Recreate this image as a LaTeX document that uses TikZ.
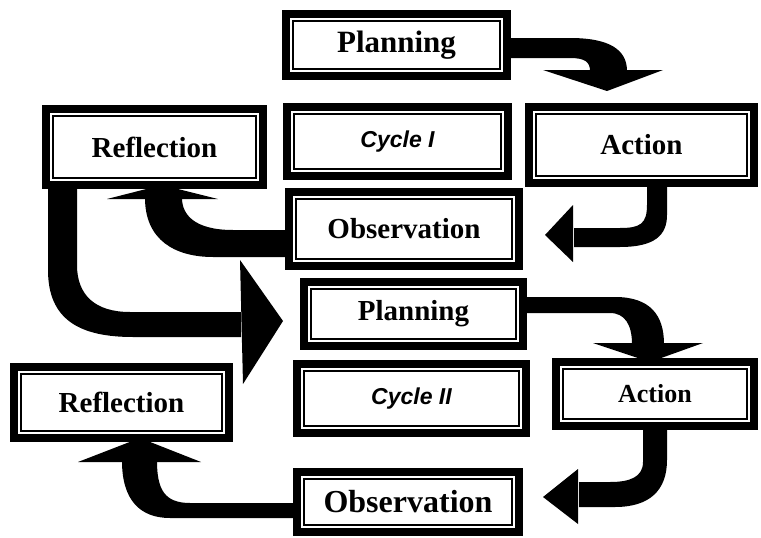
\documentclass[tikz,border=0pt]{standalone}
\usepackage{fontspec}
\setmainfont{Liberation Serif}
\newfontfamily\cyclefont{Liberation Sans}
\usetikzlibrary{calc}
\pgfdeclarelayer{bg}
\pgfsetlayers{bg,main}
\tikzset{
  frame/.style={draw, line width=8pt, fill=white, inner sep=0pt, outer sep=0pt,
    font=\bfseries\fontsize{#1}{#1}\selectfont},
  frame/.default=29,
  cyc/.style={draw, line width=8pt, fill=white, inner sep=0pt, outer sep=0pt,
    font=\cyclefont\bfseries\itshape\fontsize{23}{26}\selectfont},
  innerline/.style={line width=1.2pt},
  band/.style={fill=black, draw=none},
  head/.style={fill=black, draw=none},
}
\newcommand{\innerframe}[1]{\draw[innerline] ($(#1.north west)+(7,7)$) rectangle ($(#1.south east)+(-7,-7)$);}
\begin{document}
\begin{tikzpicture}[x=1pt,y=-1pt]
\useasboundingbox (0,0) rectangle (761,538);
% Cycle I
\node[frame=31, minimum width=221, minimum height=62] (p1) at (396.5,45) {Planning};
\node[cyc, minimum width=221, minimum height=69] (c1) at (397.5,141.5) {Cycle I};
\node[frame, minimum width=225, minimum height=76] (a1) at (641.5,145) {Action};
\node[frame, minimum width=217, minimum height=76] (r1) at (154.5,147) {Reflection};
\node[frame, minimum width=230, minimum height=74] (o1) at (404,229) {Observation};
% Cycle II
\node[frame, minimum width=219, minimum height=64] (p2) at (413.5,314) {Planning};
\node[cyc, minimum width=229, minimum height=69] (c2) at (411.5,398.5) {Cycle II};
\node[frame=26, minimum width=198, minimum height=64] (a2) at (655,394) {Action};
\node[frame, minimum width=215, minimum height=71] (r2) at (121.5,402.5) {Reflection};
\node[frame=32, minimum width=222, minimum height=60] (o2) at (408,502) {Observation};
\foreach \n in {p1,c1,a1,r1,o1,p2,c2,a2,r2,o2} {\innerframe{\n}}
\begin{pgfonlayer}{bg}
  % P1 -> A1
  \fill[band] (p1.east |- 0,38) -- (570,38) .. controls (610,38) and (627,50) .. (627,71)
     -- (590,71) .. controls (590,62) and (585,58) .. (570,58) -- (p1.east |- 0,58) -- cycle;
  \fill[head] (543,70) -- (663,70) -- ($(a1.north -| 607,0)+(0,-16)$) -- cycle;
  % A1 -> O1
  \fill[band] (a1.south -| 647,0) -- (647,205) .. controls (647,224) and (640,228) .. (620,228)
     -- (574,228) -- (574,247) -- (620,247) .. controls (655,247) and (667,235) .. (667,215)
     -- (a1.south -| 667,0) -- cycle;
  \fill[head] (573,205) -- (573,262) -- ($(o1.east -| 545,0)+(0,6)$) -- cycle;
  % O1 -> R1
  \fill[band] (o1.west |- 0,230) -- (233,230) .. controls (195,230) and (182,215) .. (182,198)
     -- (145,198) .. controls (145,240) and (175,257) .. (213,257) -- (o1.west |- 0,257) -- cycle;
  \fill[head] (107,199) -- (218,199) -- (r1.south -| 162,0) -- cycle;
  % R1 -> P2
  \fill[band] (r1.south -| 48,0) -- (48,270) .. controls (48,320) and (80,337) .. (133,337)
     -- (241,337) -- (241,312) -- (130,312) .. controls (95,312) and (77,295) .. (77,265)
     -- (r1.south -| 77,0) -- cycle;
  \fill[head] (240,260) -- (243,384) -- ($(p2.west -| 283,0)+(0,7)$) -- cycle;
  % P2 -> A2
  \fill[band] (p2.east |- 0,297) -- (615,297) .. controls (650,297) and (664,315) .. (664,344)
     -- (632,344) .. controls (632,325) and (625,313) .. (610,313) -- (p2.east |- 0,313) -- cycle;
  \fill[head] (593,343) -- (703,343) -- ($(a2.north -| 650,0)+(0,0)$) -- cycle;
  % A2 -> O2
  \fill[band] (a2.south -| 643,0) -- (643,462) .. controls (643,477) and (630,482) .. (610,482)
     -- (579,482) -- (579,507) -- (615,507) .. controls (650,507) and (667,490) .. (667,460)
     -- (a2.south -| 667,0) -- cycle;
  \fill[head] (578,469) -- (578,524) -- ($(o2.east -| 543,0)+(0,-5)$) -- cycle;
  % O2 -> R2
  \fill[band] (o2.west |- 0,503) -- (190,503) .. controls (165,503) and (157,490) .. (157,461)
     -- (122,461) .. controls (122,500) and (140,518) .. (170,518) -- (o2.west |- 0,518) -- cycle;
  \fill[head] (78,462) -- (201,462) -- (r2.south -| 140,0) -- cycle;
\end{pgfonlayer}
\end{tikzpicture}
\end{document}
